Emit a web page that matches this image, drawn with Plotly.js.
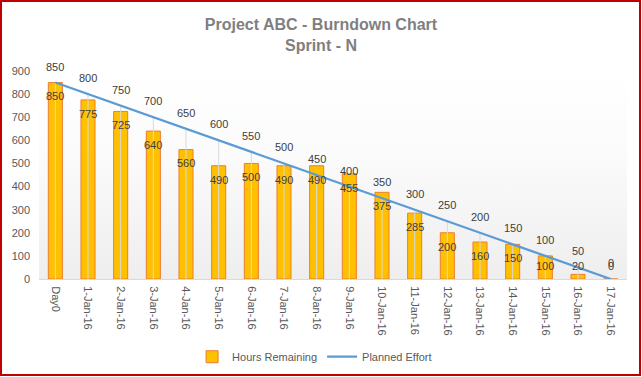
<!DOCTYPE html>
<html>
<head>
<meta charset="utf-8">
<script src="https://cdn.plot.ly/plotly-3.0.1.min.js"></script>
<style>
  html, body { margin:0; padding:0; background:#fff; }
  #wrap { position:relative; width:642px; height:377px; overflow:hidden; }
  #bg { position:absolute; left:39px; top:71px; width:588px; height:208px;
        background:linear-gradient(#ffffff 0%, #fbfbfb 40%, #eeeeee 100%); }
  #chart { position:absolute; left:0; top:0; width:642px; height:377px; }
  #frame { position:absolute; left:0; top:0; width:641px; height:376px; box-sizing:border-box;
           border:2px solid #C00000; pointer-events:none; }
</style>
</head>
<body>
<div id="wrap">
  <div id="bg"></div>
  <div id="chart"></div>
  <div id="frame"></div>
</div>
<script>
const categories = ["Day0","1-Jan-16","2-Jan-16","3-Jan-16","4-Jan-16","5-Jan-16","6-Jan-16","7-Jan-16","8-Jan-16","9-Jan-16","10-Jan-16","11-Jan-16","12-Jan-16","13-Jan-16","14-Jan-16","15-Jan-16","16-Jan-16","17-Jan-16"];
const hoursRemaining = [850,775,725,640,560,490,500,490,490,455,375,285,200,160,150,100,20,0];
const plannedEffort = [850,800,750,700,650,600,550,500,450,400,350,300,250,200,150,100,50,0];
const yTicks = [0,100,200,300,400,500,600,700,800,900];

const labelFont = {family:"Liberation Sans, Arial, sans-serif", size:11, color:"#404040"};

// drop lines from planned points to axis
const dropX = [], dropY = [];
categories.forEach((c,i) => { dropX.push(c, c, null); dropY.push(0, plannedEffort[i], null); });

const traces = [
  {
    type:"bar", name:"Hours Remaining", x:categories, y:hoursRemaining,
    width:0.43,
    marker:{color:"#FFC000", line:{color:"#ED7D31", width:1}},
    hoverinfo:"x+y"
  },
  {
    type:"scatter", mode:"lines", x:dropX, y:dropY, showlegend:false,
    line:{color:"#D9D9D9", width:1}, hoverinfo:"skip", connectgaps:false
  },
  {
    type:"scatter", mode:"lines", name:"Planned Effort", x:categories, y:plannedEffort,
    line:{color:"#5B9BD5", width:2.25}
  }
];

const annotations = [];
categories.forEach((c,i) => {
  annotations.push({x:c, y:plannedEffort[i], xref:"x", yref:"y", text:String(plannedEffort[i]),
    showarrow:false, yshift:16, font:labelFont});
  annotations.push({x:c, y:Math.max(hoursRemaining[i]-60, 56), xref:"x", yref:"y", text:String(hoursRemaining[i]),
    showarrow:false, font:labelFont});
});

const layout = {
  width:642, height:377,
  margin:{l:39, r:15, t:71, b:98, autoexpand:false},
  paper_bgcolor:"rgba(0,0,0,0)", plot_bgcolor:"rgba(0,0,0,0)",
  title:{text:"Project ABC - Burndown Chart<br>Sprint - N", x:0.5, xanchor:"center",
         y:0.921, yanchor:"middle", yref:"container",
         font:{family:"Liberation Sans, Arial, sans-serif", size:16, color:"#7F7F7F", weight:"bold"}},
  xaxis:{type:"category", tickangle:90, showgrid:false, showline:true, linecolor:"#D9D9D9", linewidth:1,
         ticks:"", tickfont:{family:"Liberation Sans, Arial, sans-serif", size:11, color:"#595959"},
         ticklabelstandoff:4, zeroline:false, automargin:false},
  yaxis:{range:[0,900], tickvals:yTicks, showgrid:false, showline:false, zeroline:false, ticks:"",
         tickfont:{family:"Liberation Sans, Arial, sans-serif", size:11, color:"#595959"},
         ticklabelstandoff:8, automargin:false},
  legend:{orientation:"h", x:0.49, xanchor:"center", xref:"container", y:0.0538, yanchor:"middle", yref:"container",
          font:{family:"Liberation Sans, Arial, sans-serif", size:11, color:"#595959"},
          bgcolor:"rgba(0,0,0,0)"},
  showlegend:true,
  annotations:annotations
};

Plotly.newPlot("chart", traces, layout, {displayModeBar:false, staticPlot:true});
</script>
</body>
</html>
